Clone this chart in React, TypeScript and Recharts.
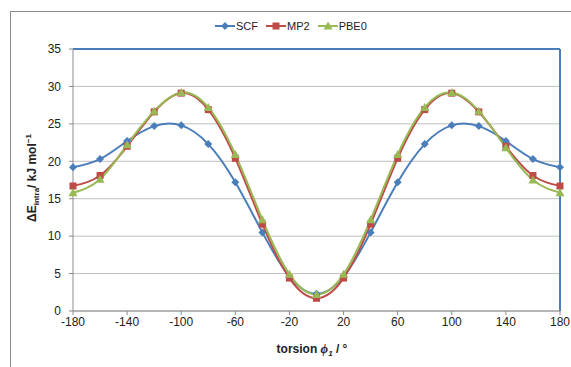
import React from 'react';
import { LineChart, Line, XAxis, YAxis, CartesianGrid, ReferenceLine } from 'recharts';

const angles = [-180, -160, -140, -120, -100, -80, -60, -40, -20, 0, 20, 40, 60, 80, 100, 120, 140, 160, 180];
const scf = [19.2, 20.3, 22.7, 24.7, 24.8, 22.3, 17.2, 10.5, 4.6, 2.3, 4.6, 10.5, 17.2, 22.3, 24.8, 24.7, 22.7, 20.3, 19.2];
const mp2 = [16.7, 18.1, 22.0, 26.6, 29.1, 26.9, 20.4, 11.6, 4.4, 1.7, 4.4, 11.6, 20.4, 26.9, 29.1, 26.6, 22.0, 18.1, 16.7];
const pbe0 = [15.8, 17.6, 22.2, 26.7, 29.2, 27.2, 20.9, 12.2, 4.9, 2.2, 4.9, 12.2, 20.9, 27.2, 29.2, 26.7, 21.8, 17.5, 15.8];
const xTicks = [-180, -140, -100, -60, -20, 20, 60, 100, 140, 180];
const yTicks = [0, 5, 10, 15, 20, 25, 30, 35];

const BLUE = '#4a7ebb';
const RED = '#be4b48';
const GREEN = '#98b954';

const data = angles.map((a, i) => ({ angle: a, scf: scf[i], mp2: mp2[i], pbe0: pbe0[i] }));

const Diamond = (props: any) => {
  const { cx, cy, fill } = props;
  if (cx == null || cy == null) return null;
  return <path d={`M${cx},${cy - 4}L${cx + 4},${cy}L${cx},${cy + 4}L${cx - 4},${cy}Z`} fill={fill} />;
};
const Square = (props: any) => {
  const { cx, cy, fill } = props;
  if (cx == null || cy == null) return null;
  return <rect x={cx - 3.5} y={cy - 3.5} width={7} height={7} fill={fill} />;
};
const Triangle = (props: any) => {
  const { cx, cy, fill } = props;
  if (cx == null || cy == null) return null;
  return <path d={`M${cx},${cy - 4.5}L${cx + 4.5},${cy + 3.5}L${cx - 4.5},${cy + 3.5}Z`} fill={fill} />;
};

const legendItems = [
  { name: 'SCF', color: BLUE, Shape: Diamond },
  { name: 'MP2', color: RED, Shape: Square },
  { name: 'PBE0', color: GREEN, Shape: Triangle },
];

const ChartLegend = () => (
  <div style={{ position: 'absolute', left: 215, top: 20, display: 'flex', gap: 8, fontSize: 11, color: '#222' }}>
    {legendItems.map(({ name, color, Shape }) => (
      <span key={name} style={{ display: 'flex', alignItems: 'center' }}>
        <svg width={20} height={10}>
          <line x1={0} y1={5} x2={20} y2={5} stroke={color} strokeWidth={2} />
          <Shape cx={10} cy={5} fill={color} />
        </svg>
        <span style={{ marginLeft: 1 }}>{name}</span>
      </span>
    ))}
  </div>
);

const YLabel = () => (
  <text transform="rotate(-90)" x={-178} y={36} textAnchor="middle" fontSize={12} fontWeight="bold" fill="#222">
    ΔE<tspan fontSize={8} dy={3}>intra</tspan>
    <tspan dy={-3}>/ kJ mol</tspan>
    <tspan fontSize={8} dy={-5}>−1</tspan>
  </text>
);

const XLabel = () => (
  <text x={312} y={353} textAnchor="middle" fontSize={12} fontWeight="bold" fill="#222">
    torsion <tspan fontStyle="italic" fontFamily="'Times New Roman', 'Liberation Serif', serif" fontSize={13}>ϕ</tspan>
    <tspan fontStyle="italic" fontSize={8} dy={3}>1</tspan>
    <tspan dy={-3}> / °</tspan>
  </text>
);

export default function App() {
  return (
    <div style={{ position: 'absolute', left: 0, top: 0, width: 571, height: 367, background: '#fff', fontFamily: 'Arial, "Liberation Sans", sans-serif' }}>
      <div style={{ position: 'absolute', left: 10, top: 11, width: 561, height: 356, borderTop: '1px solid #8c8c8c', borderLeft: '1px solid #8c8c8c' }} />
      <ChartLegend />
      <LineChart width={571} height={367} data={data} margin={{ top: 49, right: 11, left: 33, bottom: 26 }}>
        <CartesianGrid vertical={false} stroke="#bfbfbf" strokeWidth={1} />
        <XAxis
          dataKey="angle"
          type="number"
          domain={[-180, 180]}
          ticks={xTicks}
          interval={0}
          height={30}
          stroke="#8c8c8c"
          tickSize={4}
          tick={{ fontSize: 12, fill: '#222' }}
          tickMargin={2}
        />
        <YAxis
          domain={[0, 35]}
          ticks={yTicks}
          interval={0}
          width={40}
          stroke="#8c8c8c"
          tickSize={4}
          tick={{ fontSize: 12, fill: '#222' }}
          tickMargin={8}
        />
        <ReferenceLine y={35} stroke={BLUE} strokeWidth={2} />
        <ReferenceLine x={180} stroke={BLUE} strokeWidth={2} />
        <Line type="natural" dataKey="scf" name="SCF" stroke={BLUE} strokeWidth={2} dot={<Diamond fill={BLUE} />} isAnimationActive={false} />
        <Line type="natural" dataKey="mp2" name="MP2" stroke={RED} strokeWidth={2} dot={<Square fill={RED} />} isAnimationActive={false} />
        <Line type="natural" dataKey="pbe0" name="PBE0" stroke={GREEN} strokeWidth={2} dot={<Triangle fill={GREEN} />} isAnimationActive={false} />
        <YLabel />
        <XLabel />
      </LineChart>
    </div>
  );
}
